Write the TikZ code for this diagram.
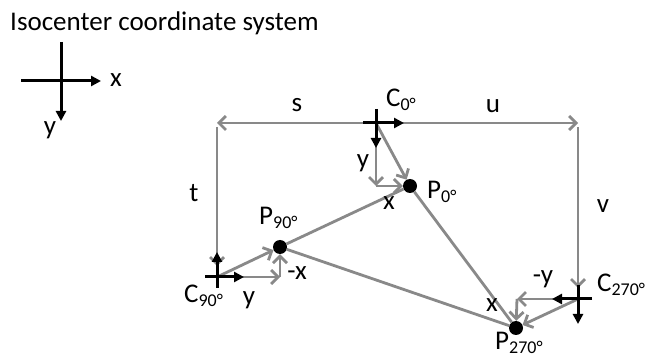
\documentclass[tikz,border=0pt]{standalone}
\usepackage{fontspec}
\setmainfont{Carlito}
\usetikzlibrary{arrows.meta}
\definecolor{gline}{HTML}{898989}
\newcommand\subs[1]{\raisebox{-4pt}{\fontsize{18}{18}\selectfont #1}}
\begin{document}
\begin{tikzpicture}[x=1pt,y=-1pt,
  every node/.style={font=\fontsize{27}{32}\selectfont, inner sep=0pt},
  lbl/.style={anchor=base},
  lblw/.style={anchor=base west},
  gl/.style={draw=gline, line width=2.8pt},
  ga/.style={gl, -{Straight Barb[length=7pt,width=14pt]}},
  ka/.style={draw=black, line width=3pt, -{Triangle[length=10pt,width=10pt]}},
  dot/.style={circle, fill=black, minimum size=14pt, inner sep=0pt}]
\useasboundingbox (0,0) rectangle (646,358);

% title and legend
\node[lblw] (title) at (10,31) {Isocenter coordinate system};
\coordinate (L0) at (61,81);
\draw[ka] ([xshift=-40pt]L0) -- ([xshift=40pt]L0);
\draw[ka] ([yshift=39pt]L0) -- ([yshift=-40pt]L0);
\node[lbl] (lx) at (116,87) {x};
\node[lbl] (ly) at (50,135) {y};

% coordinates
\coordinate (TL) at (217,123);
\coordinate (TR) at (578,123);
\coordinate (TL0) at (217,127);
\coordinate (TR0) at (578,127);
\coordinate (C0) at (376,123);
\coordinate (C90) at (217,277);
\coordinate (C270) at (578,299);
\coordinate (K0) at (376,186);
\coordinate (K90) at (280,277);
\coordinate (K270) at (517,299);
\node[dot] (P0) at (410,186) {};
\node[dot] (P90) at (280,247) {};
\node[dot] (P270) at (516,328) {};

% frame
\draw[ga] (C0) -- (TL);
\draw[ga] (C0) -- (TR);
\draw[ga, shorten >=11pt] (TL0) -- (C90);
\draw[ga, shorten >=11pt] (TR0) -- (C270);

% triangle
\draw[gl] (P0) -- (P90);
\draw[gl] (P0) -- (P270);
\draw[gl] (P90) -- (P270);

% source to point
\draw[ga] (C0) -- (P0);
\draw[ga] (C90) -- (P90);
\draw[ga] (C270) -- (P270);

% components
\draw[ga] (C0) -- (K0);
\draw[ga] (K0) -- (P0);
\draw[ga] (C90) -- (K90);
\draw[ga] (K90) -- (P90);
\draw[ga] (C270) -- (K270);
\draw[ga] (K270) -- (P270);

% black crosses
\draw[ka] ([xshift=-13pt]C0) -- ([xshift=28pt]C0);
\draw[ka] ([yshift=14pt]C0) -- ([yshift=-25pt]C0);
\draw[ka] ([xshift=-12pt]C90) -- ([xshift=27pt]C90);
\draw[ka] ([yshift=-11pt]C90) -- ([yshift=25pt]C90);
\draw[ka] ([xshift=14pt]C270) -- ([xshift=-26pt]C270);
\draw[ka] ([yshift=14pt]C270) -- ([yshift=-25pt]C270);

% labels
\node[lbl] (ls) at (297,112) {s};
\node[lbl] (lu) at (493,113) {u};
\node[lbl] (lt) at (194,202) {t};
\node[lbl] (lv) at (603,213) {v};
\node[lbl] (ly0) at (363,168) {y};
\node[lbl] (lx0) at (389,210) {x};
\node[lblw] (lP0) at (427,199) {P\subs{0°}};
\node[lblw] (lP90) at (259,225) {P\subs{90°}};
\node[lbl] (lx90) at (297,280) {-x};
\node[lblw] (lC90) at (184,303) {C\subs{90°}};
\node[lbl] (ly90) at (249,305) {y};
\node[lblw] (lC0) at (386,107) {C\subs{0°}};
\node[lbl] (ly270) at (543,284) {-y};
\node[lbl] (lx270) at (492,312) {x};
\node[lblw] (lC270) at (597,292) {C\subs{270°}};
\node[lblw] (lP270) at (495,350) {P\subs{270°}};
\end{tikzpicture}
\end{document}
